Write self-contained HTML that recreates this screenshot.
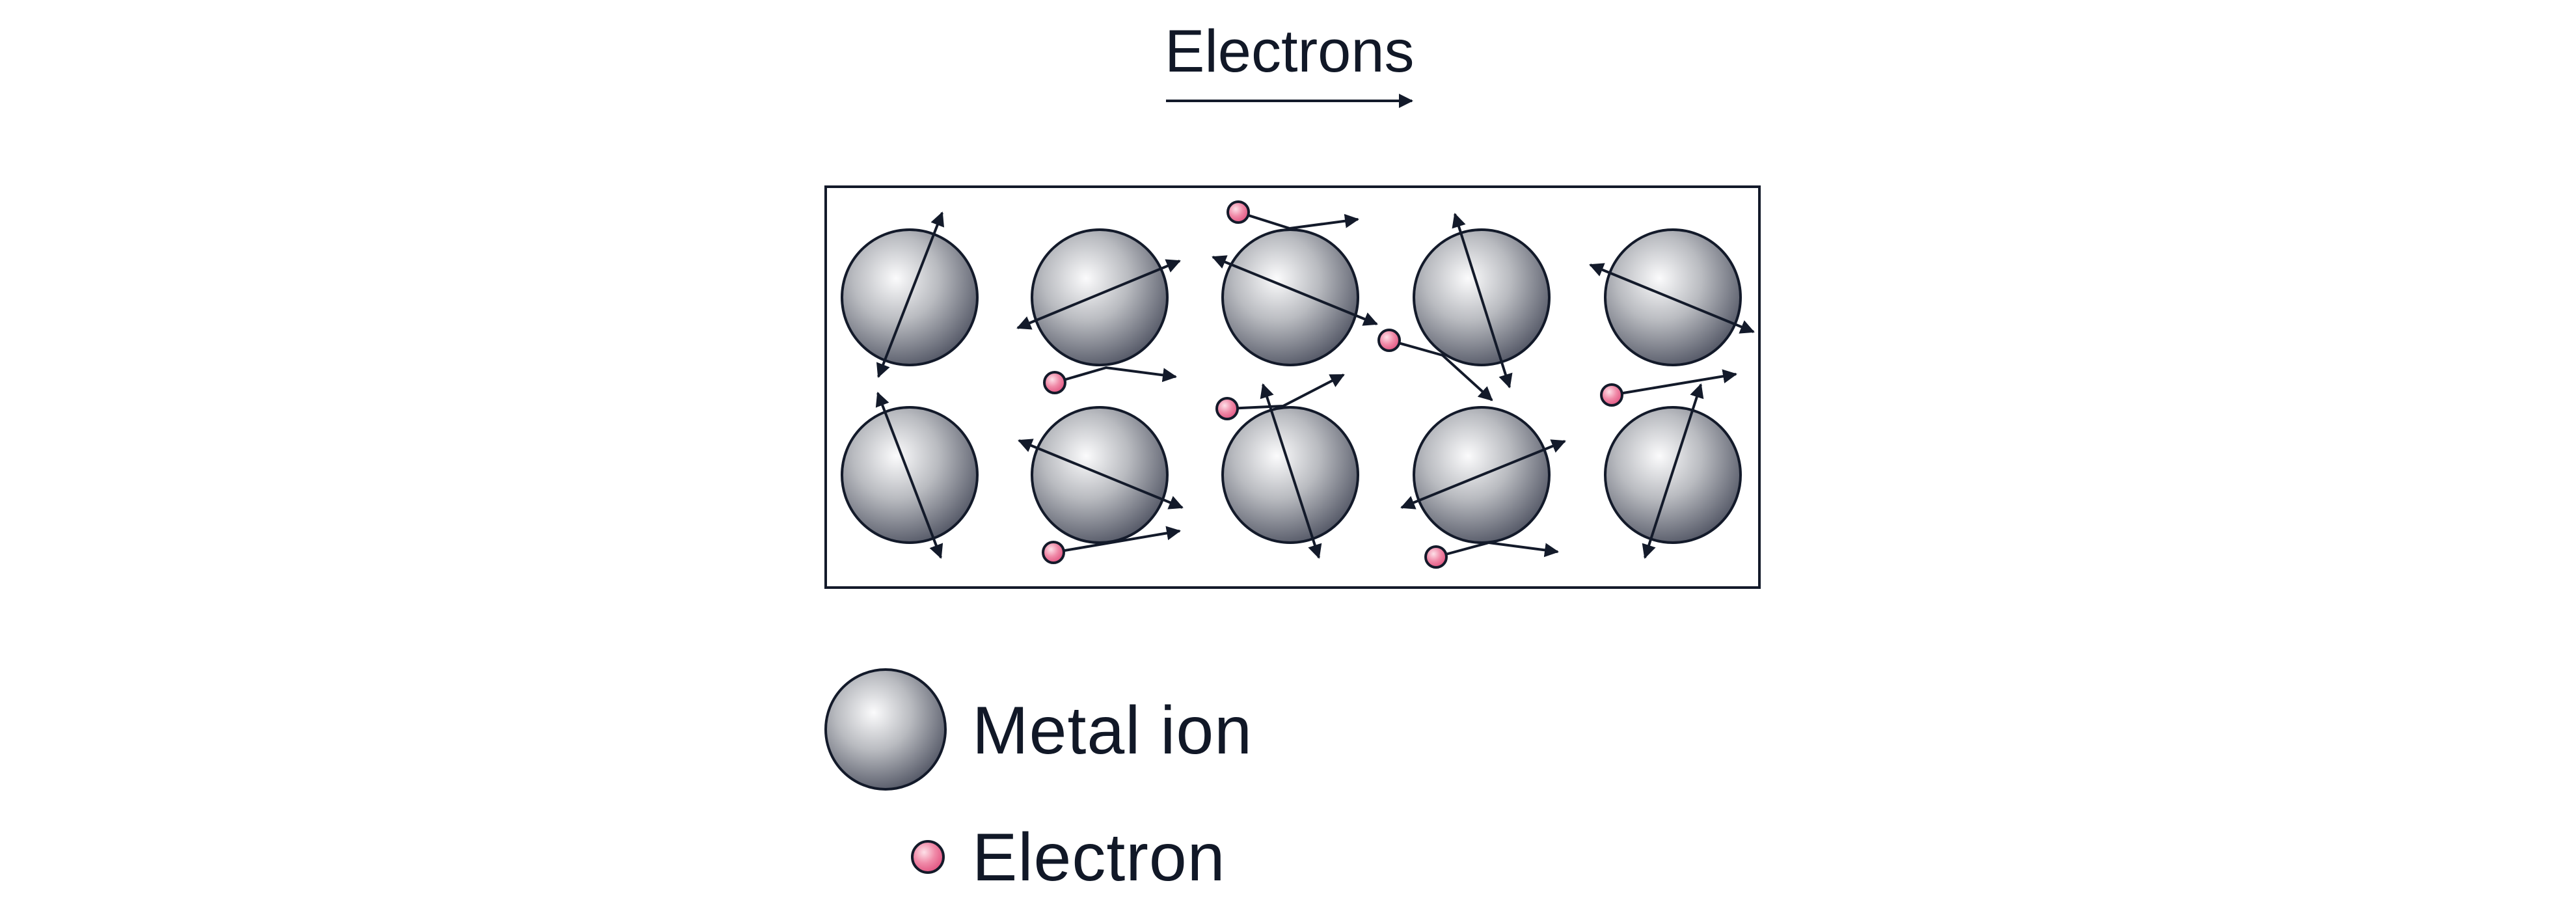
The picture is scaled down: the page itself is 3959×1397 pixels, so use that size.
<!DOCTYPE html>
<html><head><meta charset="utf-8"><style>
html,body{margin:0;padding:0;background:#fff;}
svg{display:block;}
text{font-family:"Liberation Sans",sans-serif;fill:#111827;}
</style></head><body>
<svg width="3959" height="1397" viewBox="0 0 3959 1397" xmlns="http://www.w3.org/2000/svg">
<defs>
<radialGradient id="ion" cx="0.4" cy="0.36" r="0.7" fx="0.4" fy="0.36">
<stop offset="0" stop-color="#fbfbfc"/>
<stop offset="0.45" stop-color="#b9bbc0"/>
<stop offset="1" stop-color="#4d5160"/>
</radialGradient>
<radialGradient id="el" cx="0.38" cy="0.35" r="0.7" fx="0.38" fy="0.35">
<stop offset="0" stop-color="#fde0e8"/>
<stop offset="0.5" stop-color="#f08aa8"/>
<stop offset="1" stop-color="#e0507e"/>
</radialGradient>
<marker id="ah" markerUnits="userSpaceOnUse" markerWidth="24" markerHeight="22" refX="20" refY="11" orient="auto-start-reverse" viewBox="0 0 24 22">
<path d="M0,0 L22,11 L0,22 z" fill="#131a2a"/>
</marker>
</defs>

<text x="1790" y="110" font-size="92">Electrons</text>
<line x1="1792" y1="155" x2="2170" y2="155" stroke="#131a2a" stroke-width="4" marker-end="url(#ah)"/>

<rect x="1269" y="287" width="1435" height="616" fill="none" stroke="#131a2a" stroke-width="4"/>

<g stroke="#131a2a" stroke-width="4" fill="url(#ion)">
<circle cx="1398" cy="457" r="104"/>
<circle cx="1690" cy="457" r="104"/>
<circle cx="1983" cy="457" r="104"/>
<circle cx="2277" cy="457" r="104"/>
<circle cx="2571" cy="457" r="104"/>
<circle cx="1398" cy="730" r="104"/>
<circle cx="1690" cy="730" r="104"/>
<circle cx="1983" cy="730" r="104"/>
<circle cx="2277" cy="730" r="104"/>
<circle cx="2571" cy="730" r="104"/>
</g>

<g stroke="#131a2a" stroke-width="4" fill="none">
<line x1="1350" y1="579" x2="1448" y2="327" marker-start="url(#ah)" marker-end="url(#ah)"/>
<line x1="1564" y1="504" x2="1813" y2="401" marker-start="url(#ah)" marker-end="url(#ah)"/>
<line x1="1864" y1="395" x2="2116" y2="498" marker-start="url(#ah)" marker-end="url(#ah)"/>
<line x1="2236" y1="329" x2="2320" y2="595" marker-start="url(#ah)" marker-end="url(#ah)"/>
<line x1="2444" y1="407" x2="2695" y2="510" marker-start="url(#ah)" marker-end="url(#ah)"/>
<line x1="1349" y1="604" x2="1446" y2="857" marker-start="url(#ah)" marker-end="url(#ah)"/>
<line x1="1566" y1="677" x2="1817" y2="780" marker-start="url(#ah)" marker-end="url(#ah)"/>
<line x1="1941" y1="591" x2="2027" y2="857" marker-start="url(#ah)" marker-end="url(#ah)"/>
<line x1="2154" y1="780" x2="2405" y2="678" marker-start="url(#ah)" marker-end="url(#ah)"/>
<line x1="2528" y1="857" x2="2614" y2="591" marker-start="url(#ah)" marker-end="url(#ah)"/>

<polyline points="1903,326 1982,351 2087,337" marker-end="url(#ah)"/>
<polyline points="2135,523 2217,546 2293,615" marker-end="url(#ah)"/>
<polyline points="1621,588 1700,565 1807,579" marker-end="url(#ah)"/>
<polyline points="1886,628 1972,624 2065,576" marker-end="url(#ah)"/>
<polyline points="2477,607 2668,575" marker-end="url(#ah)"/>
<polyline points="1619,849 1813,816" marker-end="url(#ah)"/>
<polyline points="2207,856 2288,834 2394,848" marker-end="url(#ah)"/>
</g>

<g stroke="#131a2a" stroke-width="4" fill="url(#el)">
<circle cx="1903" cy="326" r="16"/>
<circle cx="2135" cy="523" r="16"/>
<circle cx="1621" cy="588" r="16"/>
<circle cx="1886" cy="628" r="16"/>
<circle cx="2477" cy="607" r="16"/>
<circle cx="1619" cy="849" r="16"/>
<circle cx="2207" cy="856" r="16"/>
</g>

<circle cx="1361" cy="1121" r="92" fill="url(#ion)" stroke="#131a2a" stroke-width="4"/>
<text x="1494" y="1158" font-size="104" letter-spacing="1">Metal ion</text>
<circle cx="1426" cy="1317" r="24" fill="url(#el)" stroke="#131a2a" stroke-width="4"/>
<text x="1494" y="1353" font-size="104" letter-spacing="1">Electron</text>
</svg>
</body></html>
